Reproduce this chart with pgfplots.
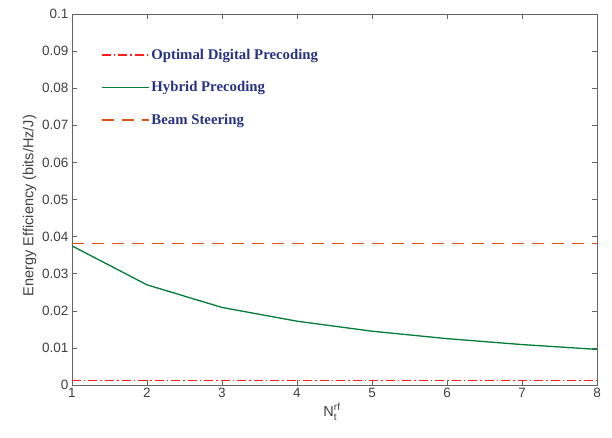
\documentclass[border=0pt]{standalone}
\usepackage{pgfplots}
\pgfplotsset{compat=1.18}
\usepackage{fontspec}
\setmainfont{Liberation Sans}
\newfontfamily\legfont{Liberation Serif}
\definecolor{LineRed}{RGB}{255,30,30}
\definecolor{LineGreen}{RGB}{0,125,55}
\definecolor{LineOrange}{RGB}{217,83,25}
\definecolor{LegText}{RGB}{40,50,130}
\definecolor{AxGray}{RGB}{100,100,100}
\definecolor{TxtGray}{RGB}{64,64,64}
\begin{document}
\begin{tikzpicture}
\begin{axis}[
  scale only axis,
  width=525pt, height=371pt,
  at={(0,0)}, anchor=south west,
  xmin=1, xmax=8, ymin=0, ymax=0.1,
  xtick={1,2,3,4,5,6,7,8},
  ytick={0,0.01,0.02,0.03,0.04,0.05,0.06,0.07,0.08,0.09,0.1},
  yticklabels={0,0.01,0.02,0.03,0.04,0.05,0.06,0.07,0.08,0.09,0.1},
  scaled y ticks=false,
  tick align=inside,
  major tick length=5pt,
  axis line style={AxGray, line width=0.6pt},
  tick style={AxGray, line width=0.6pt},
  tick label style={font=\fontsize{13.5}{15}\selectfont, text=TxtGray},
  /pgf/number format/assume math mode=true,
  xlabel={N\rlap{\raisebox{6.5pt}{\fontsize{10}{10}\selectfont rf}}\raisebox{-3.5pt}{\fontsize{10}{10}\selectfont t}\phantom{rf}},
  ylabel={Energy Efficiency (bits/Hz/J)},
  label style={font=\fontsize{14.5}{16}\selectfont, text=TxtGray},
  xlabel style={yshift=2pt},
  ylabel style={yshift=-1pt, xshift=-6pt},
  legend cell align=left,
  legend style={draw=none, fill=none, at={(0.049,0.916)}, anchor=north west,
    font=\legfont\bfseries\fontsize{14.8}{16}\selectfont, text=LegText,
    row sep=16.5pt},
  legend image code/.code={\draw[#1] (0pt,0pt) -- (47pt,0pt);},
]
\addplot[color=LineRed, line width=1.5pt, dash pattern=on 9pt off 3pt on 1.5pt off 3pt] coordinates {(1,0.0012) (8,0.0012)};
\addlegendentry{Optimal Digital Precoding}
\addplot[color=LineGreen, line width=1.3pt] coordinates {
(1,0.0375) (2,0.0270) (3,0.0209) (4,0.0172) (5,0.0145) (6,0.0125) (7,0.0109) (8,0.0096)};
\addlegendentry{Hybrid Precoding}
\addplot[color=LineOrange, line width=1.5pt, dash pattern=on 12pt off 8pt] coordinates {(1,0.0382) (8,0.0382)};
\addlegendentry{Beam Steering}
\end{axis}
\pgfresetboundingbox
\path (-72pt,-52pt) rectangle (540pt,385pt);
\end{tikzpicture}
\end{document}
